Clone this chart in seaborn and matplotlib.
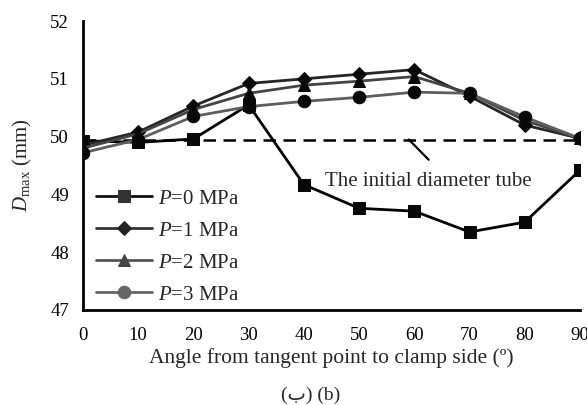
import numpy as np
import pandas as pd
import seaborn as sns
import matplotlib
matplotlib.use("Agg")
import matplotlib.pyplot as plt

angles = [0, 10, 20, 30, 40, 50, 60, 70, 80, 90]
p0 = [49.93, 49.90, 49.96, 50.55, 49.17, 48.76, 48.71, 48.35, 48.52, 49.42]
p1 = [49.85, 50.08, 50.53, 50.92, 51.00, 51.08, 51.16, 50.70, 50.20, 49.97]
p2 = [49.80, 50.05, 50.47, 50.75, 50.89, 50.96, 51.04, 50.75, 50.28, 49.97]
p3 = [49.72, 49.95, 50.35, 50.52, 50.61, 50.68, 50.77, 50.75, 50.34, 49.97]
series_labels = ["$P$=0 MPa", "$P$=1 MPa", "$P$=2 MPa", "$P$=3 MPa"]
initial_diameter = 49.95

sns.set_theme(style="white")
plt.rcParams['font.family'] = ['Liberation Serif', 'DejaVu Sans']
plt.rcParams['mathtext.fontset'] = 'custom'
plt.rcParams['mathtext.rm'] = 'Liberation Serif'
plt.rcParams['mathtext.it'] = 'Liberation Serif:italic'

df = pd.DataFrame({
    "angle": angles * 4,
    "D": p0 + p1 + p2 + p3,
    "series": sum([[lab] * len(angles) for lab in series_labels], []),
})

fig = plt.figure(figsize=(5.87, 4.05), dpi=100)
ax = fig.add_axes([0.1414, 0.2346, 0.8466, 0.7134])

line_colors = ["#000000", "#262626", "#444444", "#5e5e5e"]
legend_line_colors = ["#111111", "#333333", "#555555", "#666666"]
legend_marker_colors = ["#333333", "#222222", "#444444", "#666666"]
markers = ["s", "D", "^", "o"]
msizes = [9, 7, 9, 9]

for lab, lc, mk, ms in zip(series_labels, line_colors, markers, msizes):
    sub = df[df.series == lab]
    sns.lineplot(data=sub, x="angle", y="D", ax=ax, color=lc, marker=mk,
                 markersize=ms, markerfacecolor="#080808", markeredgecolor="#080808",
                 linewidth=2.0, label=lab, zorder=3)

ax.axhline(initial_diameter, color="black", linestyle=(0, (5, 3)), linewidth=1.8, zorder=2)
ax.annotate("", xy=(59.0, initial_diameter), xytext=(62.6, 49.6),
            arrowprops=dict(arrowstyle="-", color="black", lw=1.6, shrinkA=0, shrinkB=0))
ax.text(62.6, 49.39, "The initial diameter tube", fontsize=15, ha="center", va="top")

ax.set_xlim(0, 90)
ax.set_ylim(47, 52)
ax.set_xticks(angles)
ax.set_yticks([47, 48, 49, 50, 51, 52])
ax.tick_params(axis="both", direction="in", length=5, width=1.8, labelsize=13.5,
               colors="black")
ax.tick_params(axis="y", pad=10)
ax.tick_params(axis="x", pad=12)
for s in ["top", "right"]:
    ax.spines[s].set_visible(False)
for s in ["left", "bottom"]:
    ax.spines[s].set_color("black")
    ax.spines[s].set_linewidth(2)

ax.set_xlabel("Angle from tangent point to clamp side (º)", fontsize=15.5, labelpad=3)
ax.set_ylabel("$D_{\\mathrm{max}}$ (mm)", fontsize=15, labelpad=12)

leg = ax.legend(loc="lower left", bbox_to_anchor=(0.005, -0.018), frameon=False,
                fontsize=15, handlelength=2.7, labelspacing=0.6, handletextpad=0.3,
                borderaxespad=0.1)
for h, lc, mc in zip(leg.legend_handles, legend_line_colors, legend_marker_colors):
    h.set_color(lc)
    h.set_markerfacecolor(mc)
    h.set_markeredgecolor(mc)

fig.text(0.53, 0.025, "(ب) (b)", ha="center", va="center", fontsize=14,
         family=['Liberation Serif', 'DejaVu Sans'])

fig.savefig("out.png", dpi=100)
